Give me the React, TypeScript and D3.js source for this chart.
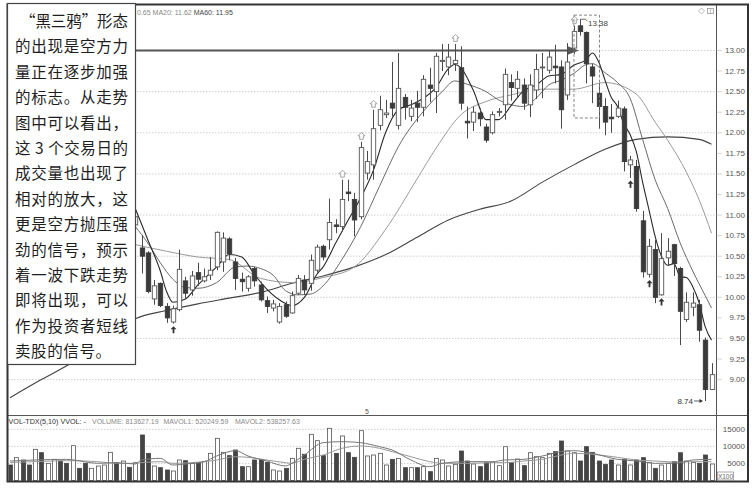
import * as d3 from "d3";

// visible candles start at bar 20 (bars 0-19 sit behind the note box)
const FIRST = 20;
// [open, high, low, close]
const candles: [number, number, number, number][] = [
  [10.88, 11.02, 10.85, 10.98], [10.6, 10.76, 10.29, 10.5], [10.54, 10.56, 10.05, 10.07],
  [9.98, 10.21, 9.91, 10.14], [10.17, 10.18, 9.88, 9.9], [9.89, 9.93, 9.69, 9.75],
  [9.7, 9.9, 9.68, 9.86], [9.85, 10.58, 9.83, 10.34], [10.2, 10.25, 9.98, 10.05],
  [10.09, 10.32, 10.02, 10.26], [10.3, 10.42, 10.14, 10.22], [10.2, 10.35, 10.18, 10.25],
  [10.27, 10.49, 10.21, 10.33], [10.37, 10.8, 10.33, 10.79], [10.43, 10.79, 10.31, 10.72],
  [10.71, 10.73, 10.45, 10.53], [10.43, 10.48, 10.09, 10.23], [10.22, 10.3, 10.07, 10.19],
  [10.11, 10.27, 10.07, 10.25], [10.35, 10.37, 10.13, 10.2], [10.15, 10.19, 9.95, 9.97],
  [9.96, 10.01, 9.81, 9.89], [9.87, 9.97, 9.83, 9.92], [9.7, 9.93, 9.68, 9.89],
  [9.91, 9.95, 9.75, 9.77], [9.81, 10.07, 9.8, 10.02], [10.05, 10.27, 10.03, 10.23],
  [10.21, 10.27, 10.03, 10.09], [10.17, 10.52, 10.08, 10.45], [10.33, 10.64, 10.3, 10.61],
  [10.62, 10.64, 10.45, 10.49], [10.7, 11.2, 10.58, 10.91], [10.88, 10.95, 10.78, 10.86],
  [10.86, 11.43, 10.8, 11.19], [11.28, 11.43, 11.17, 11.26], [11.19, 11.27, 10.74, 10.94],
  [10.98, 11.89, 10.95, 11.82], [11.51, 11.78, 11.43, 11.65], [11.61, 12.28, 11.43, 12.05],
  [12.09, 12.45, 12.03, 12.28], [12.22, 12.4, 12.18, 12.24], [12.36, 12.86, 12.2, 12.3],
  [12.09, 12.97, 12.04, 12.54], [12.43, 12.47, 12.16, 12.31], [12.2, 12.4, 12.14, 12.3],
  [12.36, 12.51, 12.13, 12.31], [12.31, 12.7, 12.2, 12.65], [12.58, 12.79, 12.37, 12.54],
  [12.5, 12.97, 12.24, 12.93], [12.87, 13.08, 12.75, 12.88], [12.8, 13.08, 12.7, 12.92],
  [12.84, 13.08, 12.75, 12.88], [12.79, 13.05, 12.28, 12.36], [12.14, 12.32, 11.93, 12.12],
  [12.13, 12.32, 12.02, 12.25], [12.24, 12.3, 12.08, 12.17], [12.07, 12.11, 11.88, 11.91],
  [12.0, 12.26, 11.98, 12.22], [12.25, 12.3, 12.2, 12.26], [12.34, 12.78, 12.16, 12.71],
  [12.61, 12.71, 12.39, 12.55], [12.54, 12.75, 12.43, 12.65], [12.58, 12.66, 12.28, 12.36],
  [12.34, 12.71, 12.19, 12.58], [12.52, 12.96, 12.41, 12.77], [12.79, 12.97, 12.42, 12.8],
  [12.76, 13.0, 12.72, 12.92], [12.81, 13.07, 12.6, 12.79], [12.8, 12.88, 12.05, 12.28],
  [12.46, 13.09, 12.4, 12.86], [13.03, 13.3, 12.96, 13.23], [13.3, 13.38, 13.18, 13.23],
  [13.22, 13.23, 12.6, 12.84], [12.8, 12.84, 12.36, 12.69], [12.48, 12.6, 12.05, 12.32],
  [12.32, 12.42, 11.97, 12.13], [12.19, 12.35, 12.0, 12.17], [12.2, 12.39, 12.18, 12.3],
  [12.29, 12.32, 11.53, 11.65], [11.61, 11.72, 11.45, 11.67], [11.59, 11.67, 11.04, 11.08],
  [10.93, 11.05, 10.24, 10.31], [10.28, 10.71, 10.24, 10.62], [10.58, 10.7, 9.93, 10.0],
  [10.03, 10.78, 10.02, 10.47], [10.48, 10.72, 10.38, 10.56], [10.64, 10.65, 10.26, 10.41],
  [10.35, 10.37, 9.42, 9.83], [9.73, 10.06, 9.7, 9.94], [9.88, 10.06, 9.77, 9.93],
  [9.91, 9.97, 9.46, 9.6], [9.48, 9.51, 8.74, 8.88], [8.88, 9.2, 8.88, 9.06],
];

// volume (x100), bars 0..112
const volumes = [
  4540, 6690, 6000, 4540, 9130, 8150, 5030, 6200, 5710, 5030,
  10200, 3570, 5030, 3570, 4250, 4540, 8250, 5220, 5710, 3860,
  5220, 13330, 7960, 4250, 3760, 3080, 2780, 6010, 5810, 5030,
  5030, 5520, 7960, 12350, 8250, 7280, 8940, 4050, 4050, 6010,
  6010, 5320, 3080, 2780, 3570, 6490, 9430, 7670, 13530, 11670,
  7280, 15290, 7960, 13040, 8150, 6790, 14600, 7180, 7470, 7960,
  4540, 6200, 6490, 3760, 3760, 3760, 4050, 2590, 6490, 6010,
  4250, 4740, 8640, 5710, 4830, 4050, 5220, 5320, 4350, 9910,
  5220, 6300, 4350, 8150, 6980, 6690, 7960, 8450, 11570, 8640,
  8150, 5710, 9910, 8250, 5710, 4740, 6010, 4540, 6200, 4540,
  6010, 6690, 5220, 3570, 4540, 5030, 5520, 8136, 5710, 5320,
  5030, 7470, 4830,
];
// falling bars among the hidden ones (0..19)
const hiddenDown = [
  true, false, true, true, false, true, false, false, true, true,
  false, true, true, false, false, false, false, true, false, true,
];

// moving averages: [bar, value]
const ma5: [number, number][] = [
  [20, 11.08], [22, 10.7], [24, 10.32], [25, 10.07], [26, 9.94], [28, 9.98], [30, 10.15],
  [33, 10.37], [35, 10.52], [37, 10.49], [39, 10.28], [41, 10.1], [43, 9.97], [45, 9.9],
  [47, 10.0], [49, 10.28], [50, 10.37], [52, 10.66], [54, 10.94], [56, 11.21], [58, 11.54],
  [60, 12.01], [62, 12.28], [64, 12.34], [66, 12.42], [68, 12.55], [70, 12.78], [71, 12.83],
  [72, 12.79], [74, 12.51], [76, 12.16], [78, 12.16], [80, 12.33], [82, 12.51], [84, 12.58],
  [86, 12.69], [88, 12.71], [90, 12.82], [92, 12.89], [93, 12.97], [94, 12.86], [95, 12.64],
  [96, 12.43], [97, 12.32], [98, 12.11], [99, 11.98], [100, 11.77], [101, 11.4], [102, 11.07],
  [103, 10.74], [104, 10.5], [105, 10.39], [106, 10.41], [107, 10.25], [108, 10.24],
  [109, 10.13], [110, 9.94], [111, 9.64], [112, 9.48],
];
const ma10: [number, number][] = [
  [20, 10.86], [22, 10.66], [24, 10.42], [26, 10.22], [28, 10.12], [30, 10.11], [33, 10.18],
  [36, 10.37], [38, 10.38], [40, 10.35], [42, 10.27], [44, 10.08], [46, 10.03], [48, 10.04],
  [50, 10.14], [53, 10.46], [56, 10.86], [59, 11.35], [62, 11.83], [66, 12.26], [69, 12.5],
  [71, 12.63], [73, 12.59], [76, 12.5], [78, 12.4], [80, 12.34], [82, 12.32], [84, 12.42],
  [86, 12.58], [88, 12.64], [90, 12.72], [92, 12.83], [93, 12.84], [95, 12.73], [97, 12.61],
  [99, 12.42], [101, 11.92], [103, 11.43], [105, 11.08], [107, 10.66], [109, 10.32],
  [111, 10.02], [112, 9.87],
];
const ma20: [number, number][] = [
  [20, 10.64], [25, 10.56], [30, 10.49], [35, 10.46], [40, 10.23], [45, 10.18], [50, 10.24],
  [55, 10.37], [60, 10.83], [65, 11.44], [68, 11.81], [72, 12.22], [76, 12.38], [80, 12.46],
  [85, 12.53], [90, 12.53], [95, 12.61], [100, 12.47], [103, 12.13], [105, 11.91],
  [108, 11.52], [110, 11.19], [112, 10.78],
];
const ma60: [number, number][] = [
  [0, 8.78], [5, 9.0], [10, 9.21], [15, 9.48], [20, 9.74], [25, 9.84], [30, 9.92], [35, 9.99],
  [40, 10.06], [45, 10.17], [50, 10.26], [55, 10.37], [60, 10.52], [65, 10.73], [70, 10.94],
  [75, 11.07], [80, 11.17], [85, 11.4], [90, 11.61], [95, 11.8], [100, 11.92], [105, 11.95],
  [110, 11.92], [112, 11.86],
];
const mavol1: [number, number][] = [
  [0, 5700], [4, 6010], [9, 6200], [14, 5030], [17, 5220], [20, 4830], [21, 6010], [24, 6490],
  [26, 4540], [29, 5030], [31, 5520], [33, 7180], [36, 8740], [38, 7180], [41, 5710],
  [44, 4250], [45, 5030], [47, 7470], [50, 11080], [53, 11380], [56, 11080], [59, 9910],
  [61, 8940], [64, 6010], [67, 4050], [69, 5030], [73, 5520], [77, 5520], [79, 6010],
  [82, 6200], [85, 7180], [88, 8450], [90, 8740], [93, 7960], [97, 6200], [100, 5710],
  [103, 5030], [107, 5200], [109, 6010], [112, 6200],
];
const mavol2: [number, number][] = [
  [0, 5300], [4, 5520], [9, 5810], [14, 5520], [17, 5030], [20, 5030], [21, 5220], [24, 5520],
  [26, 5030], [29, 5220], [31, 5520], [33, 6010], [36, 6980], [38, 6790], [41, 6010],
  [44, 5220], [45, 5030], [47, 6200], [50, 7470], [53, 9430], [56, 10110], [59, 9430],
  [61, 8450], [64, 6980], [67, 5520], [69, 5030], [73, 5030], [77, 5220], [79, 5220],
  [82, 5710], [85, 6200], [88, 7470], [90, 7960], [93, 7670], [97, 6790], [100, 6010],
  [103, 5710], [107, 5380], [109, 5520], [112, 5520],
];

const priceTicks = [9, 9.25, 9.5, 9.75, 10, 10.25, 10.5, 10.75, 11, 11.25, 11.5, 11.75, 12, 12.25, 12.5, 12.75, 13];
const priceGrid = [9, 9.5, 10, 10.5, 11, 11.5, 12, 12.5, 13];
const volTicks = [5000, 10000, 15000];

const buySignals = [26, 99, 102, 104];
const hintSignals = [53, 56, 58, 71, 90];
const resistance = { price: 13, toBar: 91 };
const crows = { from: 91, to: 93, top: 13.43, bottom: 12.18 };
const highMark = { bar: 91, price: 13.38 };
const lowMark = { bar: 111, price: 8.74 };

// the start of the MA header is hidden by the note box
const topHeader = "0.65 MA20: 11.62 ";
const topHeader2 = "MA60: 11.95";
const volHeader1 = "VOL-TDX(5,10) VVOL: -";
const volHeader2 = ["VOLUME: 813627.19", "MAVOL1: 520249.59", "MAVOL2: 538257.63"];

const noteLines = [
  "“黑三鸦”形态",
  "的出现是空方力",
  "量正在逐步加强",
  "的标志。从走势",
  "图中可以看出，",
  "这 3 个交易日的",
  "成交量也出现了",
  "相对的放大，这",
  "更是空方抛压强",
  "劲的信号，预示",
  "着一波下跌走势",
  "即将出现，可以",
  "作为投资者短线",
  "卖股的信号。",
];

const SANS = "'Liberation Sans', Arial, sans-serif";

export default function App() {
  const x = d3.scaleLinear().domain([0, 112]).range([10, 711.5]);
  const y = d3.scaleLinear().domain([9, 13]).range([379.6, 50.5]);
  const yv = d3.scaleLinear().domain([0, 15000]).range([480.5, 429.3]);

  const priceLine = d3
    .line<[number, number]>()
    .x((d) => x(d[0]))
    .y((d) => y(d[1]))
    .curve(d3.curveMonotoneX);
  const volLine = d3
    .line<[number, number]>()
    .x((d) => x(d[0]))
    .y((d) => yv(d[1]))
    .curve(d3.curveMonotoneX);

  const isDown = (i: number) =>
    i < FIRST ? hiddenDown[i] : candles[i - FIRST][3] < candles[i - FIRST][0];

  const axisX = 716.5;
  const resY = y(resistance.price);
  const tipX = x(resistance.toBar) - 1;

  return (
    <div style={{ position: "fixed", left: 0, top: 0 }}>
      <svg width={754} height={489} style={{ display: "block", background: "#fff" }}>
        <defs>
          <clipPath id="price">
            <rect x={8.5} y={6} width={axisX - 8.5} height={409} />
          </clipPath>
          <clipPath id="vol">
            <rect x={8.5} y={416} width={axisX - 8.5} height={65} />
          </clipPath>
        </defs>

        {/* grid */}
        {priceGrid.map((p) => (
          <line key={p} x1={8} x2={axisX} y1={y(p)} y2={y(p)} stroke="#c4c4c4" strokeWidth={0.8} strokeDasharray="1.5,1.5" />
        ))}
        {volTicks.map((v) => (
          <line key={v} x1={8} x2={axisX} y1={yv(v)} y2={yv(v)} stroke="#c4c4c4" strokeWidth={0.8} strokeDasharray="1.5,1.5" />
        ))}

        {/* resistance line at 13.00 */}
        <line x1={8} x2={tipX - 10} y1={resY} y2={resY} stroke="#555" strokeWidth={2} />
        <path d={`M${tipX - 12},${resY - 4.5} L${tipX},${resY} L${tipX - 12},${resY + 4.5} Z`} fill="#555" />

        <g clipPath="url(#price)">
          {/* moving averages */}
          <path d={priceLine(ma60) ?? ""} fill="none" stroke="#444" strokeWidth={1.1} />
          <path d={priceLine(ma20) ?? ""} fill="none" stroke="#9a9a9a" strokeWidth={1} />
          <path d={priceLine(ma10) ?? ""} fill="none" stroke="#6a6a6a" strokeWidth={1} />
          <path d={priceLine(ma5) ?? ""} fill="none" stroke="#2a2a2a" strokeWidth={1.1} />

          {/* candles */}
          {candles.map(([o, h, l, c], k) => {
            const i = k + FIRST;
            const cx = Math.round(x(i)) + 0.5;
            const down = c < o;
            const top = y(Math.max(o, c));
            const bh = Math.max(1, y(Math.min(o, c)) - top);
            return (
              <g key={i}>
                <line x1={cx} x2={cx} y1={y(h)} y2={y(l)} stroke="#4a4a4a" strokeWidth={1} />
                <rect
                  x={cx - 2.2}
                  y={top}
                  width={4.4}
                  height={bh}
                  fill={down ? "#3a3a3a" : "#fff"}
                  stroke={down ? "#3a3a3a" : "#555"}
                  strokeWidth={0.9}
                />
              </g>
            );
          })}

          {/* signal markers */}
          {buySignals.map((i) => {
            const cx = Math.round(x(i)) + 0.5;
            const t = y(candles[i - FIRST][2]) + 2.5;
            return (
              <path
                key={i}
                d={`M${cx - 3},${t + 3.2} L${cx},${t} L${cx + 3},${t + 3.2} Z M${cx - 0.9},${t + 3} h1.8 v4.2 h-1.8 Z`}
                fill="#333"
              />
            );
          })}
          {hintSignals.map((i) => {
            const cx = Math.round(x(i)) + 0.5;
            const b = y(candles[i - FIRST][1]) - 2.5;
            return (
              <path
                key={i}
                d={`M${cx},${b - 7} L${cx + 3.5},${b - 3.5} L${cx + 1.8},${b - 3.5} L${cx + 1.8},${b} L${cx - 1.8},${b} L${cx - 1.8},${b - 3.5} L${cx - 3.5},${b - 3.5} Z`}
                fill="#fff"
                stroke="#9a9a9a"
                strokeWidth={0.9}
              />
            );
          })}

          {/* three black crows box */}
          <rect
            x={x(crows.from) - 6}
            y={y(crows.top)}
            width={x(crows.to) - x(crows.from) + 13}
            height={y(crows.bottom) - y(crows.top)}
            fill="none"
            stroke="#777"
            strokeWidth={0.9}
            strokeDasharray="3,2"
          />
        </g>

        {/* high / low labels */}
        {(() => {
          const hx = Math.round(x(highMark.bar)) + 0.5;
          const hy = y(highMark.price);
          return (
            <g>
              <path d={`M${hx},${hy} L${hx + 5},${hy} L${hx + 7},${hy + 2}`} fill="none" stroke="#444" strokeWidth={0.8} />
              <text x={hx + 7.5} y={hy + 4} fontFamily={SANS} fontSize={8} fill="#444" dominantBaseline="central">
                {highMark.price.toFixed(2)}
              </text>
            </g>
          );
        })()}
        {(() => {
          const lx = Math.round(x(lowMark.bar)) - 2;
          const ly = y(lowMark.price);
          return (
            <g>
              <line x1={lx - 9} x2={lx - 2} y1={ly} y2={ly} stroke="#333" strokeWidth={0.8} />
              <path d={`M${lx - 3.5},${ly - 2} L${lx},${ly} L${lx - 3.5},${ly + 2} Z`} fill="#333" />
              <text x={lx - 10} y={ly + 0.5} fontFamily={SANS} fontSize={8} fill="#333" textAnchor="end" dominantBaseline="central">
                {lowMark.price.toFixed(2)}
              </text>
            </g>
          );
        })()}

        {/* volume */}
        <g clipPath="url(#vol)">
          {volumes.map((v, i) => {
            const cx = Math.round(x(i)) + 0.5;
            const down = isDown(i);
            return (
              <rect
                key={i}
                x={cx - 2}
                y={yv(v)}
                width={4}
                height={yv(0) - yv(v)}
                fill={down ? "#444" : "#fff"}
                stroke={down ? "#444" : "#555"}
                strokeWidth={0.8}
              />
            );
          })}
          <path d={volLine(mavol2) ?? ""} fill="none" stroke="#999" strokeWidth={1} />
          <path d={volLine(mavol1) ?? ""} fill="none" stroke="#777" strokeWidth={1} />
        </g>

        {/* panel separators and frame */}
        <line x1={8} x2={748} y1={415.5} y2={415.5} stroke="#555" strokeWidth={1} />
        <line x1={axisX} x2={axisX} y1={5} y2={481.5} stroke="#555" strokeWidth={1} />
        <rect x={7.5} y={4.5} width={740.5} height={477} fill="none" stroke="#333" strokeWidth={2} />

        {/* price axis */}
        {priceTicks.map((p) => (
          <g key={p}>
            <line x1={axisX} x2={axisX + 5} y1={y(p)} y2={y(p)} stroke="#999" strokeWidth={0.8} strokeDasharray="1,1" />
            <text x={745} y={y(p)} fontFamily={SANS} fontSize={8} fill="#555" textAnchor="end" dominantBaseline="central">
              {p.toFixed(2)}
            </text>
          </g>
        ))}
        {volTicks.map((v) => (
          <text key={v} x={745} y={yv(v)} fontFamily={SANS} fontSize={8} fill="#555" textAnchor="end" dominantBaseline="central">
            {v}
          </text>
        ))}
        <rect x={717.5} y={472} width={16} height={8} fill="#fff" stroke="#888" strokeWidth={0.7} />
        <text x={725.5} y={476.3} fontFamily={SANS} fontSize={6.5} fill="#666" textAnchor="middle" dominantBaseline="central">
          X100
        </text>

        {/* headers */}
        <text x={137} y={12} fontFamily={SANS} fontSize={7} fill="#888" dominantBaseline="central">
          {topHeader}
          <tspan fill="#444">{topHeader2}</tspan>
        </text>
        <path d="M701.5,8 L704.5,11 L701.5,14 L698.5,11 Z" fill="none" stroke="#aaa" strokeWidth={0.8} />
        <rect x={707.5} y={8.5} width={6} height={5} fill="none" stroke="#999" strokeWidth={0.8} />
        <line x1={710.5} x2={710.5} y1={8.5} y2={13.5} stroke="#999" strokeWidth={0.6} />
        <text x={367} y={411} fontFamily={SANS} fontSize={7} fill="#555" textAnchor="middle" dominantBaseline="central">
          5
        </text>
        <text x={8.5} y={421} fontFamily={SANS} fontSize={7.2} fill="#333" dominantBaseline="central">
          {volHeader1}
        </text>
        {volHeader2.map((t, k) => (
          <text key={t} x={92 + k * 71.5} y={421} fontFamily={SANS} fontSize={7} fill="#8a8a8a" dominantBaseline="central">
            {t}
          </text>
        ))}

        {/* note box */}
        <rect x={7.5} y={3.5} width={128} height={361} fill="#fff" stroke="#444" strokeWidth={1.2} />
        {noteLines.map((t, k) => {
          const first = k === 0;
          const last = k === noteLines.length - 1;
          return (
            <text
              key={k}
              x={first ? 20 : 15}
              y={20 + k * 25.4}
              fontFamily="'Noto Sans CJK SC', sans-serif"
              fontSize={15.5}
              fill="#1e1e1e"
              dominantBaseline="central"
              {...(last ? { letterSpacing: 0.6 } : { textLength: first ? 108 : 113, lengthAdjust: "spacing" })}
            >
              {t}
            </text>
          );
        })}
      </svg>
    </div>
  );
}
